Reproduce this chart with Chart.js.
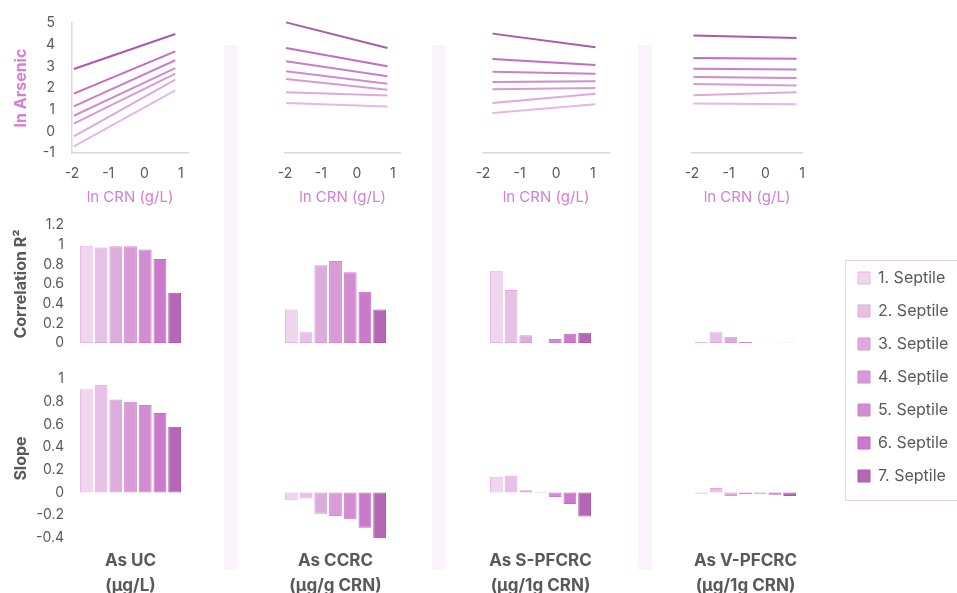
<!DOCTYPE html>
<html>
<head>
<meta charset="utf-8">
<script src="https://cdn.jsdelivr.net/npm/chart.js@4.4.1/dist/chart.umd.min.js"></script>
<style>
  body { margin: 0; background: #fff; width: 957px; height: 593px; overflow: hidden; position: relative; }
  .band { position: absolute; top: 45px; height: 525px; width: 14px; background: #fcf4fc; }
  #legendBox { position: absolute; left: 845px; top: 260px; width: 130px; height: 239px; border: 1px solid #eed0ed; }
</style>
</head>
<body>
<div class="band" style="left:224px"></div>
<div class="band" style="left:432px"></div>
<div class="band" style="left:638px"></div>
<div id="legendBox"></div>
<script>
// septile groups and the four arsenic measures
const septiles = ['1. Septile', '2. Septile', '3. Septile', '4. Septile', '5. Septile', '6. Septile', '7. Septile'];
const measureNames = ['As UC', 'As CCRC', 'As S-PFCRC', 'As V-PFCRC'];
const measureUnits = ['(µg/L)', '(µg/g CRN)', '(µg/1g CRN)', '(µg/1g CRN)'];

// regression lines: ln CRN from -> to, ln Arsenic at both ends
const crnStart = [-1.95, -1.97, -1.74, -1.96];
const crnEnd = [0.85, 0.85, 1.07, 0.85];
const lnAsStartUC = [-0.69, -0.23, 0.36, 0.72, 1.15, 1.74, 2.88];
const lnAsEndUC = [1.89, 2.39, 2.66, 2.92, 3.28, 3.69, 4.49];
const lnAsStartCCRC = [1.31, 1.80, 2.42, 2.77, 3.23, 3.85, 5.03];
const lnAsEndCCRC = [1.15, 1.65, 1.92, 2.20, 2.54, 3.00, 3.85];
const lnAsStartSPF = [0.85, 1.31, 1.94, 2.28, 2.75, 3.34, 4.51];
const lnAsEndSPF = [1.25, 1.73, 2.00, 2.31, 2.66, 3.06, 3.88];
const lnAsStartVPF = [1.28, 1.66, 2.19, 2.51, 2.89, 3.39, 4.42];
const lnAsEndVPF = [1.25, 1.80, 2.11, 2.46, 2.85, 3.35, 4.31];

// correlation R2
const r2UC = [0.99, 0.97, 0.985, 0.985, 0.95, 0.855, 0.51];
const r2CCRC = [0.34, 0.11, 0.79, 0.835, 0.72, 0.52, 0.34];
const r2SPF = [0.736, 0.54, 0.08, 0.003, 0.04, 0.094, 0.104];
const r2VPF = [0.01, 0.11, 0.064, 0.01, 0.003, 0.003, 0.003];

// slopes
const slopeUC = [0.91, 0.95, 0.82, 0.80, 0.77, 0.70, 0.58];
const slopeCCRC = [-0.068, -0.053, -0.186, -0.207, -0.236, -0.31, -0.41];
const slopeSPF = [0.14, 0.15, 0.02, 0.006, -0.04, -0.10, -0.21];
const slopeVPF = [-0.01, 0.04, -0.03, -0.015, -0.01, -0.02, -0.03];

const lineStarts = [lnAsStartUC, lnAsStartCCRC, lnAsStartSPF, lnAsStartVPF];
const lineEnds = [lnAsEndUC, lnAsEndCCRC, lnAsEndSPF, lnAsEndVPF];
const r2Sets = [r2UC, r2CCRC, r2SPF, r2VPF];
const slopeSets = [slopeUC, slopeCCRC, slopeSPF, slopeVPF];

// look
const GRAY = '#595959';
const PINK = '#d680d5';
const septFill = ['#f0d5ef', '#e7c0e6', '#ddabdc', '#d89bd7', '#d28dd1', '#cb79ca', '#b566b4'];
const septEdge = ['#e6b6e4', '#dfa9de', '#d79ad6', '#d08bcf', '#cb7fca', '#c46bc3', '#a95aa8'];
const lineArea = [[72, 188], [285, 400], [483, 609], [692, 802]];
const crnMax = [1.2, 1.2, 1.44, 1.0];
const barArea = [[79, 182], [284, 387], [489, 592], [694, 797]];

Chart.defaults.font.family = 'Inter, "Noto Sans", sans-serif';
Chart.defaults.color = GRAY;
Chart.defaults.animation = false;

function place(left, top, width, height) {
  const div = document.createElement('div');
  div.style.cssText = `position:absolute;left:${left}px;top:${top}px;width:${width}px;height:${height}px`;
  const cv = document.createElement('canvas');
  div.appendChild(cv);
  document.body.appendChild(div);
  return cv;
}

const fmt = v => String(Math.round(v * 10) / 10);

function yAxis(first, yW, min, max, step, title, gap) {
  return {
    min: min, max: max,
    grid: { display: false, drawTicks: true, tickLength: gap },
    border: { display: false },
    ticks: { display: first, stepSize: step, autoSkip: false, padding: 4, font: { size: 14 }, color: GRAY, callback: fmt },
    title: { display: first, text: title, font: { size: 16, weight: 'bold' }, color: GRAY, padding: { top: 12, bottom: 0 } },
    afterFit: s => { s.width = yW; }
  };
}

const baseOpts = {
  responsive: true,
  maintainAspectRatio: false,
  plugins: { legend: { display: false }, tooltip: { enabled: false } }
};

// top row: ln Arsenic vs ln CRN
for (let c = 0; c < 4; c++) {
  const first = c === 0;
  const yW = first ? 72 : 16;
  const left = lineArea[c][0] - yW;
  const cv = place(left, 9, lineArea[c][1] + 10 - left, 199);
  const y = yAxis(first, yW, -1, 5, 1, 'ln Arsenic', 13);
  y.title.color = PINK;
  y.border = { display: first, color: '#d9d9d9', width: 1.5 };
  new Chart(cv, {
    type: 'line',
    data: {
      datasets: septiles.map((s, i) => ({
        label: s,
        data: [{ x: crnStart[c], y: lineStarts[c][i] }, { x: crnEnd[c], y: lineEnds[c][i] }],
        borderColor: septEdge[i],
        borderWidth: 2,
        pointRadius: 0,
        fill: false,
        clip: false
      }))
    },
    options: {
      ...baseOpts,
      layout: { padding: { top: 14, right: 10, left: 0, bottom: 0 } },
      scales: {
        x: {
          type: 'linear', min: -2, max: crnMax[c],
          grid: { display: false, drawTicks: true, tickLength: 8 },
          border: { display: true, color: '#d9d9d9', width: 1.5 },
          ticks: { stepSize: 1, includeBounds: false, autoSkip: false, padding: 4, font: { size: 14 }, color: GRAY },
          title: { display: true, text: 'ln CRN (g/L)', color: PINK, font: { size: 15 }, padding: { top: 0, bottom: 2 } },
          afterFit: s => { s.height = 55; }
        },
        y: y
      }
    }
  });
}

function barSets(values) {
  return septiles.map((s, i) => ({
    label: s,
    data: [values[i]],
    backgroundColor: septFill[i],
    borderColor: septEdge[i],
    borderWidth: 1,
    borderSkipped: false,
    categoryPercentage: 1,
    barPercentage: 0.87
  }));
}

// middle row: correlation R2
for (let c = 0; c < 4; c++) {
  const first = c === 0;
  const yW = first ? 79 : 16;
  const left = barArea[c][0] - yW;
  const cv = place(left, 211, barArea[c][1] + 10 - left, 146);
  new Chart(cv, {
    type: 'bar',
    data: { labels: [measureNames[c]], datasets: barSets(r2Sets[c]) },
    options: {
      ...baseOpts,
      layout: { padding: { top: 14, right: 10, left: 0, bottom: 14 } },
      scales: {
        x: { display: false },
        y: yAxis(first, yW, 0, 1.2, 0.2, 'Correlation R²', 11)
      }
    }
  });
}

// bottom row: slope
for (let c = 0; c < 4; c++) {
  const first = c === 0;
  const yW = first ? 79 : 16;
  const left = barArea[c][0] - yW;
  const cv = place(left, 365, barArea[c][1] + 10 - left, 233);
  new Chart(cv, {
    type: 'bar',
    data: { labels: [measureNames[c]], datasets: barSets(slopeSets[c]) },
    options: {
      ...baseOpts,
      layout: { padding: { top: 14, right: 10, left: 0, bottom: 0 } },
      scales: {
        x: {
          grid: { display: false, drawTicks: false },
          border: { display: false },
          ticks: { display: false },
          title: { display: true, text: [measureNames[c], measureUnits[c]], color: GRAY, font: { size: 17, weight: 'bold', lineHeight: 1.47 }, padding: { top: 0, bottom: 0 } },
          afterFit: s => { s.height = 60; }
        },
        y: yAxis(first, yW, -0.4, 1, 0.2, 'Slope', 11)
      }
    }
  });
}

// legend
const lg = place(841, 253, 120, 250);
new Chart(lg, {
  type: 'bar',
  data: { labels: [''], datasets: barSets([0, 0, 0, 0, 0, 0, 0]) },
  options: {
    responsive: true,
    maintainAspectRatio: false,
    layout: { padding: 0 },
    scales: { x: { display: false }, y: { display: false } },
    plugins: {
      tooltip: { enabled: false },
      legend: {
        position: 'top', align: 'start', maxHeight: 250,
        labels: { boxWidth: 12, boxHeight: 12, padding: 17, font: { size: 16 }, color: GRAY }
      }
    }
  }
});
</script>
</body>
</html>
